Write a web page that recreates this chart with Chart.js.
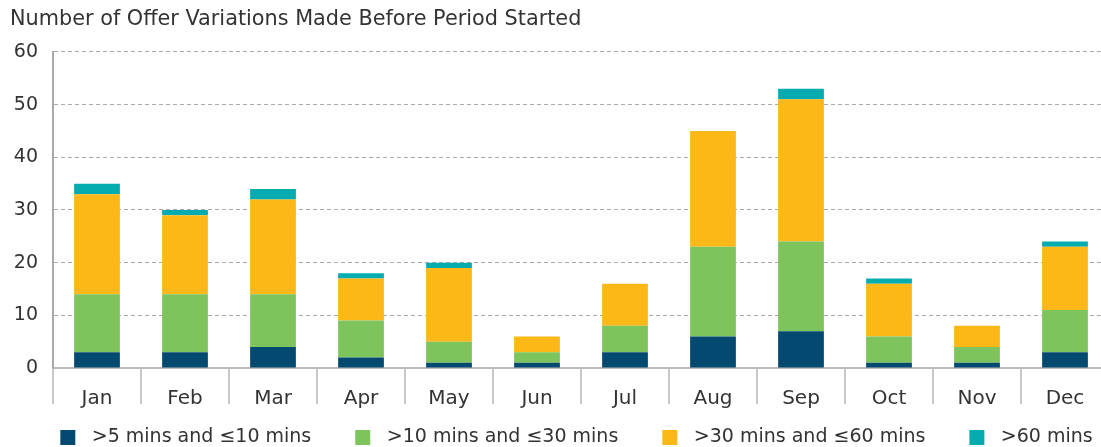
<!DOCTYPE html>
<html lang="en">
<head>
<meta charset="UTF-8">
<title>Offer Variations</title>
<script src="https://cdn.jsdelivr.net/npm/chart.js"></script>
<style>
  body { margin: 0; overflow: hidden; background: #fff; }
  .chart-container { position: relative; width: 1109px; height: 447px; }
</style>
</head>
<body>
<div class="chart-container">
  <canvas id="grafico"></canvas>
</div>
<script>
const meses = ['Jan', 'Feb', 'Mar', 'Apr', 'May', 'Jun', 'Jul', 'Aug', 'Sep', 'Oct', 'Nov', 'Dec'];
const de5a10 = [3, 3, 4, 2, 1, 1, 3, 6, 7, 1, 1, 3];
const de10a30 = [11, 11, 10, 7, 4, 2, 5, 17, 17, 5, 3, 8];
const de30a60 = [19, 15, 18, 8, 14, 3, 8, 22, 27, 10, 4, 12];
const acima60 = [2, 1, 2, 1, 1, 0, 0, 0, 2, 1, 0, 1];
const yTicks = [0, 10, 20, 30, 40, 50, 60];

const fonte = "'DejaVu Sans', sans-serif";
const corTexto = '#333333';

// quadradinho da legenda com espaço transparente à esquerda/direita
function amostra(cor) {
  const c = document.createElement('canvas');
  c.width = 56; c.height = 15;
  const ctx = c.getContext('2d');
  ctx.fillStyle = cor;
  ctx.fillRect(34, 0, 15, 15);
  return c;
}

new Chart(document.getElementById('grafico'), {
  type: 'bar',
  data: {
    labels: meses,
    datasets: [
      { label: '>5 mins and \u226410 mins', data: de5a10, backgroundColor: '#044a70' },
      { label: '>10 mins and \u226430 mins', data: de10a30, backgroundColor: '#7dc45c' },
      { label: '>30 mins and \u226460 mins', data: de30a60, backgroundColor: '#fbb817' },
      { label: '>60 mins', data: acima60, backgroundColor: '#04acb0' }
    ]
  },
  options: {
    responsive: true,
    maintainAspectRatio: false,
    animation: false,
    layout: { padding: { left: 10, right: 0, top: 0, bottom: -10 } },
    datasets: { bar: { barPercentage: 0.52, categoryPercentage: 1 } },
    scales: {
      x: {
        stacked: true,
        grid: { drawOnChartArea: false, color: '#c8c8c8', lineWidth: 2, tickLength: 36, offset: true },
        border: { color: '#bbbbbb', width: 2 },
        ticks: { color: corTexto, font: { family: fonte, size: 20 }, padding: -17 },
        afterFit: (scale) => { scale.height = 50; }
      },
      y: {
        stacked: true,
        min: 0,
        max: 60,
        afterBuildTicks: (axis) => { axis.ticks = yTicks.map(v => ({ value: v })); },
        grid: { color: '#aaaaaa', lineWidth: 1, drawTicks: false },
        border: { color: '#aaaaaa', width: 2, dash: [4, 3] },
        ticks: { color: corTexto, font: { family: fonte, size: 19 }, padding: 15 },
        afterFit: (scale) => { scale.width = 43; }
      }
    },
    plugins: {
      title: {
        display: true,
        text: 'Number of Offer Variations Made Before Period Started',
        align: 'start',
        color: corTexto,
        font: { family: fonte, size: 20.8, weight: 'normal' },
        padding: { top: 7, bottom: 20 }
      },
      legend: {
        position: 'bottom',
        labels: {
          color: corTexto,
          font: { family: fonte, size: 19 },
          usePointStyle: true,
          pointStyleWidth: 56,
          padding: 10,
          generateLabels: (chart) => Chart.defaults.plugins.legend.labels.generateLabels(chart)
            .map(item => Object.assign(item, { pointStyle: amostra(item.fillStyle) }))
        }
      },
      tooltip: { enabled: false }
    }
  }
});
</script>
</body>
</html>
